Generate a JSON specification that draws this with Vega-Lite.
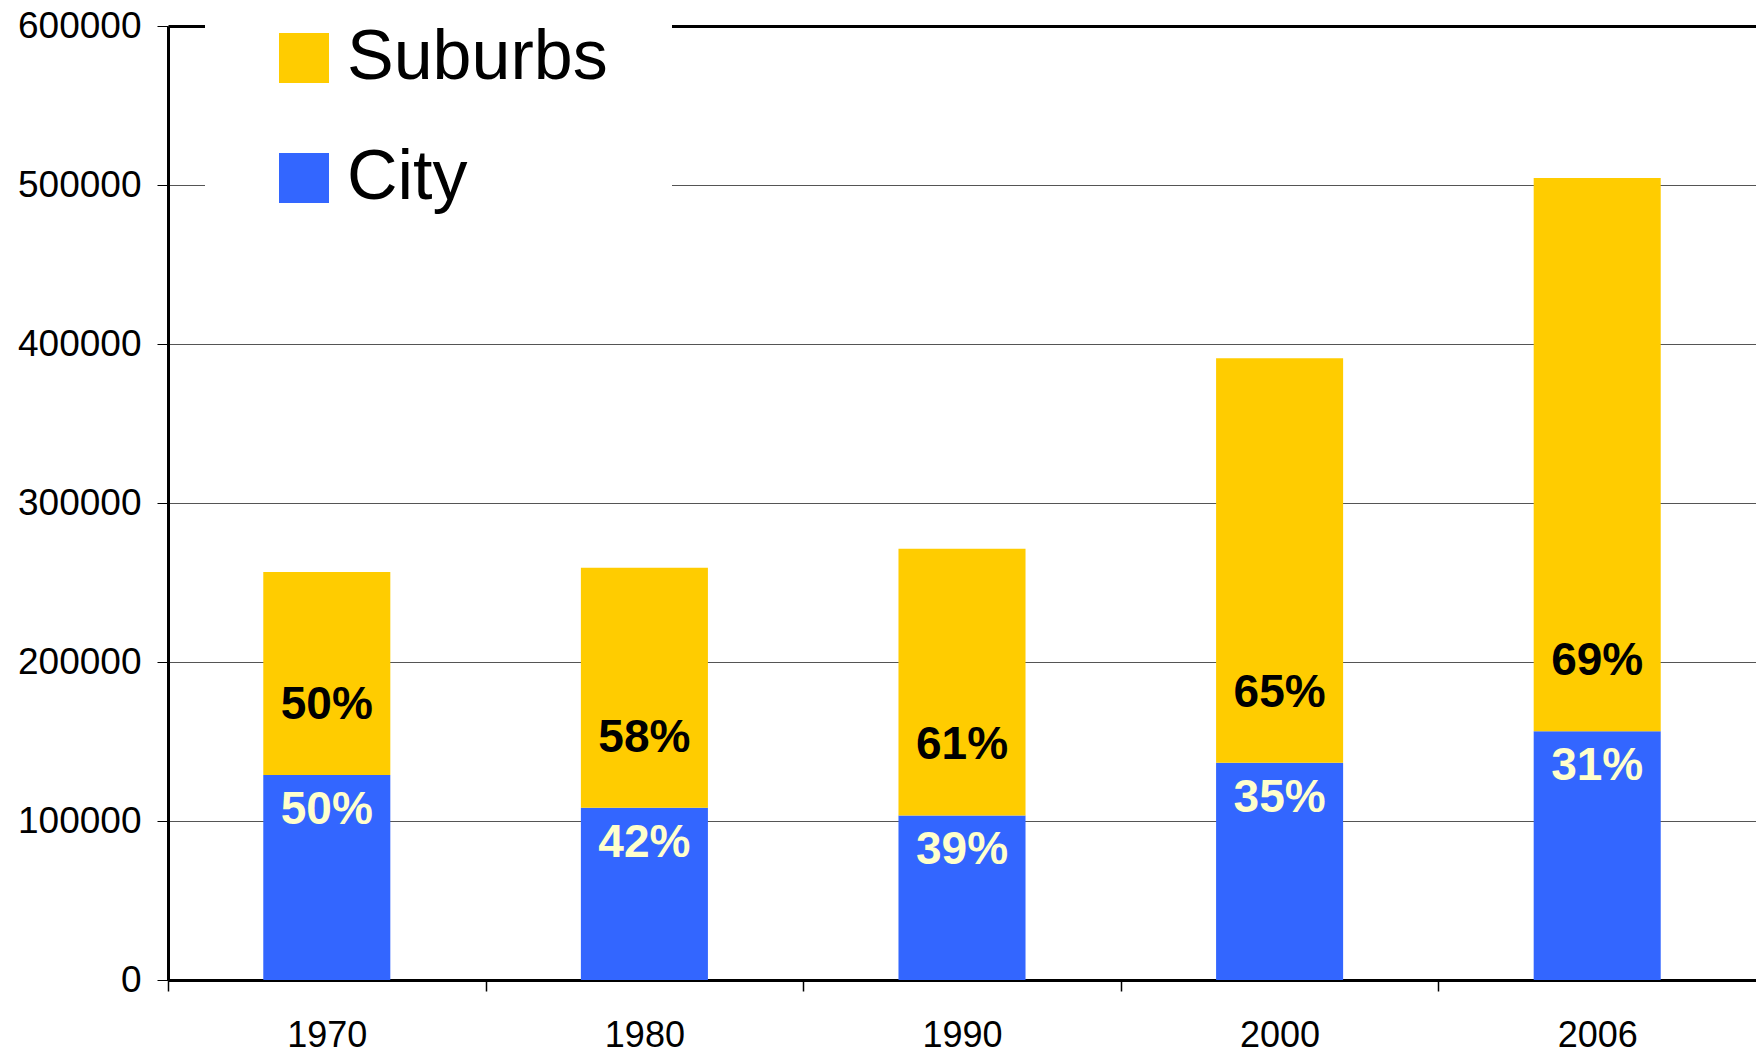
{
  "$schema": "https://vega.github.io/schema/vega-lite/v6.json",
  "width": 1588,
  "height": 954,
  "autosize": {"type": "none"},
  "padding": {"left": 168, "top": 26, "right": 0, "bottom": 73},
  "background": "white",
  "config": {"view": {"stroke": null}, "font": "Liberation Sans"},
  "data": {
    "values": [
      {"year": "1970", "area": "City", "pop": 129000, "pct": 0.50},
      {"year": "1970", "area": "Suburbs", "pop": 127600, "pct": 0.50},
      {"year": "1980", "area": "City", "pop": 108300, "pct": 0.42},
      {"year": "1980", "area": "Suburbs", "pop": 150900, "pct": 0.58},
      {"year": "1990", "area": "City", "pop": 103500, "pct": 0.39},
      {"year": "1990", "area": "Suburbs", "pop": 167700, "pct": 0.61},
      {"year": "2000", "area": "City", "pop": 136700, "pct": 0.35},
      {"year": "2000", "area": "Suburbs", "pop": 254300, "pct": 0.65},
      {"year": "2006", "area": "City", "pop": 156400, "pct": 0.31},
      {"year": "2006", "area": "Suburbs", "pop": 348000, "pct": 0.69}
    ]
  },
  "encoding": {
    "x": {
      "field": "year",
      "type": "ordinal",
      "scale": {"paddingInner": 0.6, "paddingOuter": 0.3},
      "axis": {
        "title": null,
        "labelAngle": 0,
        "tickOffset": -158.8,
        "labelOffset": 158.8,
        "tickSize": 11,
        "tickColor": "black",
        "tickWidth": 1.5,
        "domainColor": "black",
        "domainWidth": 3,
        "labelFont": "Liberation Sans",
        "labelFontSize": 36,
        "labelColor": "black",
        "labelPadding": 27,
        "grid": false
      }
    }
  },
  "layer": [
    {
      "mark": {"type": "bar"},
      "encoding": {
        "y": {
          "field": "pop",
          "type": "quantitative",
          "stack": "zero",
          "scale": {"domain": [0, 600000], "nice": false},
          "axis": {
            "title": null,
            "values": [0, 100000, 200000, 300000, 400000, 500000, 600000],
            "format": "d",
            "labelFont": "Liberation Sans",
            "labelFontSize": 37,
            "labelColor": "black",
            "labelPadding": 16,
            "tickSize": 11,
            "tickColor": "black",
            "domainColor": "black",
            "domainWidth": 3,
            "grid": true,
            "gridColor": {"condition": {"test": "datum.value === 600000", "value": "black"}, "value": "#555555"},
            "gridWidth": {"condition": {"test": "datum.value === 600000", "value": 3}, "value": 1},
            "gridOpacity": 1
          }
        },
        "color": {
          "field": "area",
          "type": "nominal",
          "scale": {"domain": ["Suburbs", "City"], "range": ["#FFCC00", "#3366FF"]},
          "legend": {
            "title": null,
            "orient": "none",
            "legendX": 37,
            "legendY": -67,
            "symbolType": "square",
            "symbolSize": 2500,
            "symbolStrokeWidth": 0,
            "symbolOpacity": 1,
            "labelFont": "Liberation Sans",
            "labelFontSize": 70,
            "labelColor": "black",
            "labelOffset": 8,
            "rowPadding": 50,
            "fillColor": "white",
            "padding": 64,
            "labelLimit": 600
          }
        },
        "order": {"field": "area", "sort": "ascending"}
      }
    },
    {
      "transform": [{"filter": "datum.area === 'City'"}],
      "mark": {
        "type": "text",
        "font": "Liberation Sans",
        "fontWeight": "bold",
        "fontSize": 46,
        "align": "center",
        "baseline": "middle",
        "dy": 35,
        "color": "#FFFFCC"
      },
      "encoding": {
        "y": {"field": "pop", "type": "quantitative"},
        "text": {"field": "pct", "type": "quantitative", "format": ".0%"}
      }
    },
    {
      "transform": [
        {"stack": "pop", "groupby": ["year"], "sort": [{"field": "area", "order": "ascending"}], "as": ["p0", "p1"]},
        {"filter": "datum.area === 'Suburbs'"}
      ],
      "mark": {
        "type": "text",
        "font": "Liberation Sans",
        "fontWeight": "bold",
        "fontSize": 46,
        "align": "center",
        "baseline": "middle",
        "dy": -70,
        "color": "black"
      },
      "encoding": {
        "y": {"field": "p0", "type": "quantitative"},
        "text": {"field": "pct", "type": "quantitative", "format": ".0%"}
      }
    }
  ]
}
